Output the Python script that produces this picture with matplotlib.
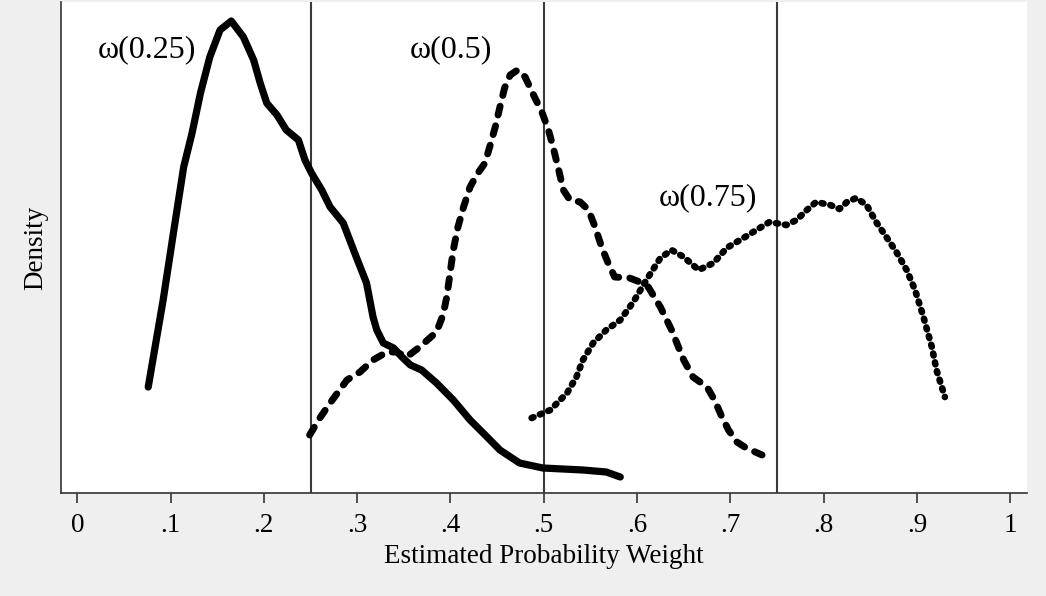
import matplotlib
matplotlib.use("Agg")
import matplotlib.pyplot as plt

plt.rcParams.update({
    "font.family": ["Liberation Serif", "DejaVu Serif"],
    "figure.facecolor": "#efefef",
    "axes.facecolor": "white",
})

# kernel density estimates of the estimated probability weights
w25_x = [0.076, 0.092, 0.103, 0.114, 0.123, 0.132, 0.142, 0.153, 0.165, 0.178,
         0.189, 0.196, 0.203, 0.214, 0.224, 0.237, 0.244, 0.251, 0.262, 0.271,
         0.285, 0.299, 0.310, 0.317, 0.321, 0.328, 0.339, 0.348, 0.357, 0.369,
         0.385, 0.403, 0.421, 0.435, 0.453, 0.474, 0.499, 0.542, 0.567, 0.582]
w25_d = [1.06, 1.93, 2.60, 3.26, 3.60, 4.00, 4.36, 4.63, 4.72, 4.56,
         4.33, 4.10, 3.90, 3.78, 3.63, 3.53, 3.33, 3.20, 3.03, 2.86,
         2.70, 2.36, 2.10, 1.76, 1.63, 1.50, 1.45, 1.36, 1.28, 1.23,
         1.10, 0.93, 0.73, 0.60, 0.43, 0.30, 0.25, 0.23, 0.21, 0.16]

w50_x = [0.249, 0.260, 0.271, 0.289, 0.303, 0.317, 0.332, 0.342, 0.353, 0.367,
         0.385, 0.392, 0.396, 0.399, 0.403, 0.408, 0.414, 0.421, 0.428, 0.437,
         0.442, 0.448, 0.453, 0.458, 0.464, 0.472, 0.480, 0.489, 0.498, 0.505,
         0.510, 0.516, 0.521, 0.528, 0.539, 0.548, 0.555, 0.562, 0.569, 0.576,
         0.592, 0.603, 0.612, 0.625, 0.637, 0.650, 0.660, 0.675, 0.683, 0.691,
         0.698, 0.707, 0.717, 0.734]
w50_d = [0.58, 0.75, 0.90, 1.13, 1.21, 1.33, 1.41, 1.41, 1.36, 1.46,
         1.61, 1.78, 1.96, 2.16, 2.43, 2.66, 2.86, 3.06, 3.18, 3.30,
         3.46, 3.66, 3.86, 4.05, 4.18, 4.23, 4.16, 3.98, 3.81, 3.63,
         3.46, 3.23, 3.03, 2.93, 2.91, 2.83, 2.66, 2.46, 2.30, 2.16,
         2.15, 2.11, 2.06, 1.86, 1.63, 1.33, 1.16, 1.06, 0.93, 0.76,
         0.63, 0.51, 0.45, 0.38]

w75_x = [0.487, 0.507, 0.525, 0.535, 0.542, 0.553, 0.567, 0.582, 0.596, 0.610,
         0.625, 0.637, 0.650, 0.666, 0.682, 0.696, 0.714, 0.728, 0.742, 0.760,
         0.771, 0.782, 0.792, 0.807, 0.817, 0.825, 0.835, 0.846, 0.857, 0.868,
         0.878, 0.889, 0.898, 0.907, 0.916, 0.921, 0.930]
w75_d = [0.75, 0.83, 1.00, 1.16, 1.33, 1.50, 1.63, 1.73, 1.91, 2.13,
         2.35, 2.43, 2.36, 2.23, 2.30, 2.45, 2.55, 2.63, 2.71, 2.68,
         2.73, 2.83, 2.91, 2.88, 2.84, 2.91, 2.95, 2.88, 2.70, 2.55,
         2.41, 2.23, 2.03, 1.76, 1.46, 1.23, 0.96]

ref_lines = [0.25, 0.5, 0.75]
tick_vals = [0, 0.1, 0.2, 0.3, 0.4, 0.5, 0.6, 0.7, 0.8, 0.9, 1]
tick_labels = ["0", ".1", ".2", ".3", ".4", ".5", ".6", ".7", ".8", ".9", "1"]

fig = plt.figure(figsize=(10.46, 5.96), dpi=100)
ax = fig.add_axes([61 / 1046, 103 / 596, 966 / 1046, 491 / 596])

for xv in ref_lines:
    ax.axvline(xv, color="#3a3a3a", linewidth=1.5, zorder=1)

ax.plot(w25_x, w25_d, color="black", linewidth=5.2,
        solid_capstyle="round", solid_joinstyle="round", zorder=3)
ax.plot(w50_x, w50_d, color="black", linewidth=5.0, linestyle=(0, (1.3, 1.6)),
        dash_capstyle="round", dash_joinstyle="round", zorder=3)
ax.plot(w75_x, w75_d, color="black", linewidth=4.8, linestyle=(0, (0.3, 1.05)),
        dash_capstyle="round", dash_joinstyle="round", zorder=3)

ax.text(0.075, 4.43, "ω(0.25)", fontsize=23, ha="center", va="center")
ax.text(0.400, 4.43, "ω(0.5)", fontsize=23, ha="center", va="center")
ax.text(0.676, 2.95, "ω(0.75)", fontsize=23, ha="center", va="center")

ax.set_xlim(-0.0175, 1.018)
ax.set_ylim(0, 4.91)
ax.set_xticks(tick_vals)
ax.set_xticklabels(tick_labels)
ax.set_yticks([])
ax.tick_params(axis="x", direction="out", length=7.5, width=1.2,
               color="#333333", labelsize=19.5, pad=7)

for side in ["top", "right"]:
    ax.spines[side].set_visible(False)
for side in ["left", "bottom"]:
    ax.spines[side].set_color("#333333")
    ax.spines[side].set_linewidth(1.2)

ax.set_xlabel("Estimated Probability Weight", fontsize=19.5, labelpad=4)
ax.set_ylabel("Density", fontsize=19.5, labelpad=9)

fig.savefig("out.png", dpi=100, facecolor=fig.get_facecolor())
